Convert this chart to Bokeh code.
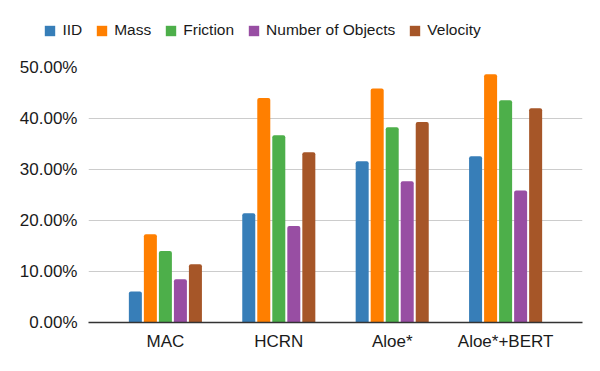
from bokeh.plotting import figure
from bokeh.layouts import column, row
from bokeh.models import (FactorRange, Range1d, NumeralTickFormatter, Legend,
                          LegendItem, ColumnDataSource, FixedTicker)
from bokeh.transform import dodge
from bokeh.embed import file_html
from bokeh.resources import INLINE

models = ["MAC", "HCRN", "Aloe*", "Aloe*+BERT"]
series = ["IID", "Mass", "Friction", "Number of Objects", "Velocity"]
iid = [0.061, 0.214, 0.316, 0.326]
mass = [0.173, 0.440, 0.459, 0.487]
friction = [0.140, 0.367, 0.383, 0.436]
num_objects = [0.085, 0.189, 0.277, 0.259]
velocity = [0.114, 0.334, 0.393, 0.420]
y_ticks = [0.0, 0.1, 0.2, 0.3, 0.4, 0.5]

colors = ["#377eb8", "#ff7f00", "#4daf4a", "#984ea3", "#a65628"]

source = ColumnDataSource(data=dict(
    model=models, IID=iid, Mass=mass, Friction=friction,
    NumObj=num_objects, Velocity=velocity))
cols = ["IID", "Mass", "Friction", "NumObj", "Velocity"]

FONT = "Liberation Sans"
TXT = "#1a1a1a"
LEG_H = 45

# ---- legend strip (separate figure so the legend is not clipped) ----
# its y range lies above the data, so the proxy marks stay out of view
pl = figure(width=592, height=LEG_H,
            x_range=FactorRange(factors=models), y_range=Range1d(1, 2),
            output_backend="svg", toolbar_location=None,
            min_border=0, min_border_left=0, min_border_right=0,
            min_border_top=0, min_border_bottom=0)
pl.axis.visible = False
pl.grid.grid_line_color = None
pl.outline_line_color = None
leg_items = []
for c, name, col in zip(cols, series, colors):
    r = pl.rect(x="model", y=c, width=0.1, height=0.1, source=source,
                color=col, line_color=None)
    leg_items.append(LegendItem(label=name, renderers=[r]))
legend = Legend(items=leg_items, orientation="horizontal",
                location=(43.4, 6), padding=0, margin=0,
                spacing=13, label_standoff=6,
                glyph_width=13, glyph_height=13,
                label_width=1,
                label_text_font=FONT, label_text_font_size="15.5px",
                label_text_color=TXT,
                border_line_color=None, background_fill_alpha=0)
pl.add_layout(legend, "center")

# ---- main chart ----
p = figure(
    width=592, height=363 - LEG_H,
    x_range=FactorRange(factors=models, range_padding=0.089,
                        range_padding_units="percent"),
    y_range=Range1d(0, 0.5),
    output_backend="svg", toolbar_location=None,
    min_border_left=88, min_border_right=10,
    min_border_top=67 - LEG_H, min_border_bottom=41,
)
p.outline_line_color = None
p.background_fill_color = "white"
p.border_fill_color = "white"

pitch = 0.1324
bw = 0.1147
for i, (c, col) in enumerate(zip(cols, colors)):
    p.vbar(x=dodge("model", (i - 2) * pitch, range=p.x_range), top=c,
           width=bw, source=source, color=col, line_color=None,
           border_radius=[2, 2, 0, 0])

p.yaxis.ticker = FixedTicker(ticks=y_ticks)
p.yaxis.formatter = NumeralTickFormatter(format="0.00%")
p.yaxis.axis_line_color = None
p.yaxis.major_tick_line_color = None
p.yaxis.minor_tick_line_color = None
p.yaxis.major_label_standoff = 5
p.yaxis.major_label_text_font = FONT
p.yaxis.major_label_text_font_size = "17px"
p.yaxis.major_label_text_color = TXT

p.xaxis.axis_line_color = "#333333"
p.xaxis.axis_line_width = 1.5
p.xaxis.major_tick_line_color = None
p.xaxis.minor_tick_line_color = None
p.xaxis.major_label_standoff = 3
p.xaxis.major_label_text_font = FONT
p.xaxis.major_label_text_font_size = "17px"
p.xaxis.major_label_text_color = TXT

p.xgrid.grid_line_color = None
p.ygrid.grid_line_color = "#cccccc"
p.ygrid.grid_line_width = 1

layout = column(row(pl), p, spacing=0)
open("out.html", "w").write(file_html(layout, INLINE))
